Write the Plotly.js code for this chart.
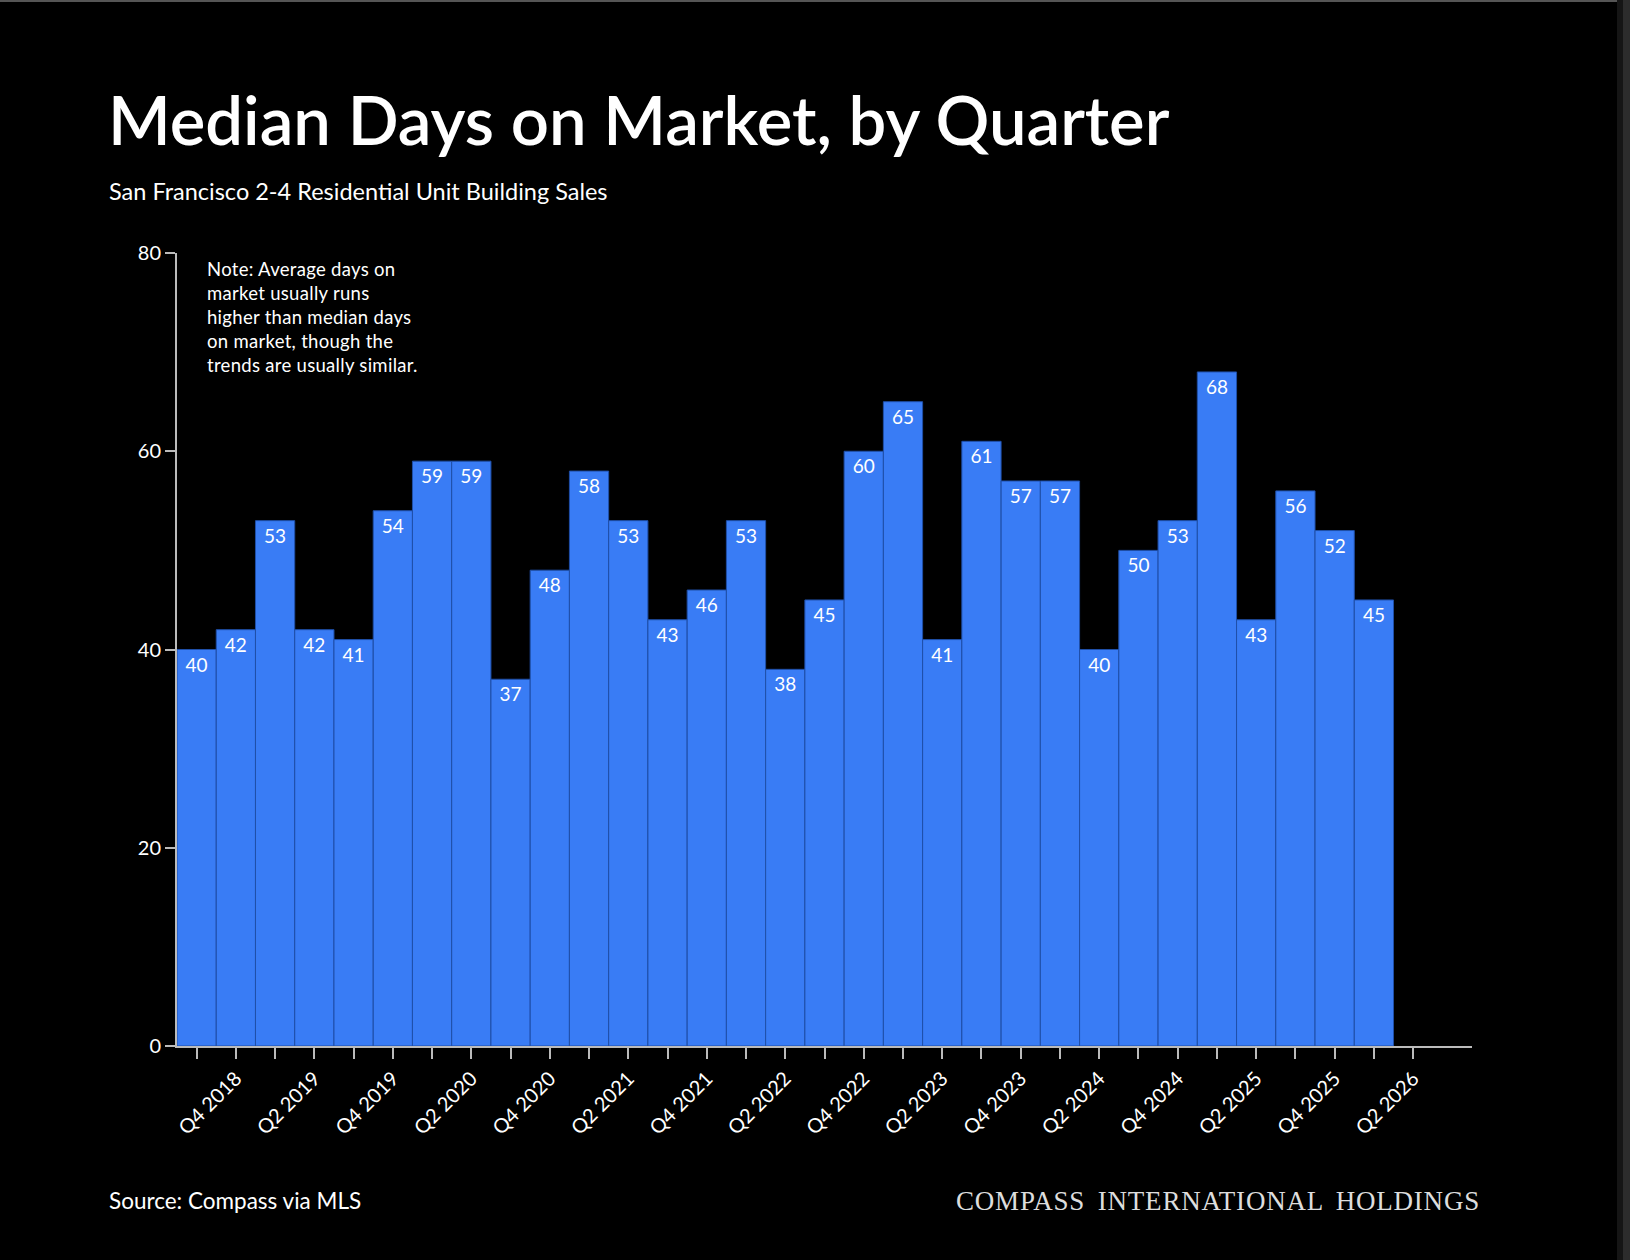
<!DOCTYPE html>
<html>
<head>
<meta charset="utf-8">
<script src="https://cdn.plot.ly/plotly-3.0.1.min.js"></script>
<style>
  html, body { margin: 0; padding: 0; background: #000; }
  #chart { width: 1630px; height: 1260px; }
  .annotation[data-index="2"] text { letter-spacing: 0.8px; word-spacing: 5px; }
  .annotation[data-index="0"] text { letter-spacing: 0.3px; }
</style>
</head>
<body>
<div id="chart"></div>
<script>
// Quarter categories (33 slots on the axis; data for the first 31)
const quarters = [
  "Q3 2018","Q4 2018","Q1 2019","Q2 2019","Q3 2019","Q4 2019",
  "Q1 2020","Q2 2020","Q3 2020","Q4 2020","Q1 2021","Q2 2021",
  "Q3 2021","Q4 2021","Q1 2022","Q2 2022","Q3 2022","Q4 2022",
  "Q1 2023","Q2 2023","Q3 2023","Q4 2023","Q1 2024","Q2 2024",
  "Q3 2024","Q4 2024","Q1 2025","Q2 2025","Q3 2025","Q4 2025",
  "Q1 2026","Q2 2026","Q3 2026"
];

// Median days on market per quarter
const medianDays = [
  40, 42, 53, 42, 41, 54, 59, 59, 37, 48,
  58, 53, 43, 46, 53, 38, 45, 60, 65, 41,
  61, 57, 57, 40, 50, 53, 68, 43, 56, 52, 45
];

// Tick positions and the labels shown under them
const tickQuarters = quarters.slice(0, 32);
const tickLabels = [
  "", "Q4 2018", "", "Q2 2019", "", "Q4 2019", "", "Q2 2020",
  "", "Q4 2020", "", "Q2 2021", "", "Q4 2021", "", "Q2 2022",
  "", "Q4 2022", "", "Q2 2023", "", "Q4 2023", "", "Q2 2024",
  "", "Q4 2024", "", "Q2 2025", "", "Q4 2025", "", "Q2 2026"
];
const yTicks = [0, 20, 40, 60, 80];

const titleText = "Median Days on Market, by Quarter";
const subtitleText = "San Francisco 2-4 Residential Unit Building Sales";
const noteText = "Note: Average days on<br>market usually runs<br>higher than median days<br>on market, though the<br>trends are usually similar.";
const sourceText = "Source: Compass via MLS";
const brandText = "COMPASS INTERNATIONAL HOLDINGS";

const FONT = "Lato, 'Open Sans', sans-serif";

const W = 1630, H = 1260;
const M = {l: 177, r: 158, t: 253, b: 214};
const PW = W - M.l - M.r, PH = H - M.t - M.b;
const px = x => (x - M.l) / PW;
const py = y => (H - M.b - y) / PH;

const trace = {
  type: "bar",
  x: quarters.slice(0, medianDays.length),
  y: medianDays,
  text: medianDays.map(String),
  textposition: "inside",
  insidetextanchor: "end",
  textangle: 0,
  textfont: {family: FONT, size: 19, color: "#ffffff"},
  marker: {color: "#397cf5", line: {color: "#1f4fa8", width: 1}},
  hoverinfo: "x+y"
};

const layout = {
  width: W, height: H,
  paper_bgcolor: "#000000",
  plot_bgcolor: "#000000",
  margin: M,
  bargap: 0,
  showlegend: false,
  font: {family: FONT, color: "#ffffff"},
  title: {
    text: titleText,
    xref: "container", yref: "container",
    x: 108 / W, xanchor: "left",
    y: 1 - 122 / H, yanchor: "middle",
    font: {family: FONT, size: 67, weight: 600, color: "#ffffff"}
  },
  xaxis: {
    type: "category",
    categoryorder: "array",
    categoryarray: quarters,
    range: [-0.5, quarters.length - 0.5],
    tickmode: "array",
    tickvals: tickQuarters,
    ticktext: tickLabels,
    tickangle: -45,
    ticks: "outside",
    ticklen: 11,
    tickwidth: 2,
    tickcolor: "#bbbbbb",
    tickfont: {family: FONT, size: 20, color: "#ffffff"},
    showline: true,
    linecolor: "#bbbbbb",
    linewidth: 2,
    showgrid: false,
    zeroline: false,
    fixedrange: true
  },
  yaxis: {
    range: [0, 80],
    tickmode: "array",
    tickvals: yTicks,
    ticks: "outside",
    ticklen: 10,
    tickwidth: 2,
    tickcolor: "#bbbbbb",
    tickfont: {family: FONT, size: 20, color: "#ffffff"},
    showline: true,
    linecolor: "#bbbbbb",
    linewidth: 2,
    showgrid: false,
    zeroline: false,
    fixedrange: true
  },
  annotations: [
    {
      text: noteText, xref: "paper", yref: "paper",
      x: px(205), y: py(256), xanchor: "left", yanchor: "top", align: "left",
      showarrow: false, font: {family: FONT, size: 18.5, color: "#ffffff"}
    },
    {
      text: sourceText, xref: "paper", yref: "paper",
      x: px(107), y: py(1200), xanchor: "left", yanchor: "middle", align: "left",
      showarrow: false, font: {family: FONT, size: 22.5, color: "#ffffff"}
    },
    {
      text: brandText, xref: "paper", yref: "paper",
      x: px(1482), y: py(1201), xanchor: "right", yanchor: "middle", align: "right",
      showarrow: false, font: {family: "'Liberation Serif', 'DejaVu Serif', serif", size: 27, color: "#dddddd"}
    },
    {
      text: subtitleText, xref: "paper", yref: "paper",
      x: px(107), y: py(191), xanchor: "left", yanchor: "middle", align: "left",
      showarrow: false, font: {family: FONT, size: 23.5, color: "#ffffff"}
    }
  ],
  shapes: [
    {type: "rect", xref: "paper", yref: "paper", x0: px(0), x1: px(W), y0: py(0), y1: py(2),
     fillcolor: "#555555", line: {width: 0}, layer: "above"},
    {type: "rect", xref: "paper", yref: "paper", x0: px(1617), x1: px(1623), y0: py(H), y1: py(0),
     fillcolor: "#151515", line: {width: 0}, layer: "above"},
    {type: "rect", xref: "paper", yref: "paper", x0: px(1623), x1: px(W), y0: py(H), y1: py(0),
     fillcolor: "#2c2c2c", line: {width: 0}, layer: "above"}
  ]
};

Plotly.newPlot("chart", [trace], layout, {displayModeBar: false, staticPlot: true});
</script>
</body>
</html>
